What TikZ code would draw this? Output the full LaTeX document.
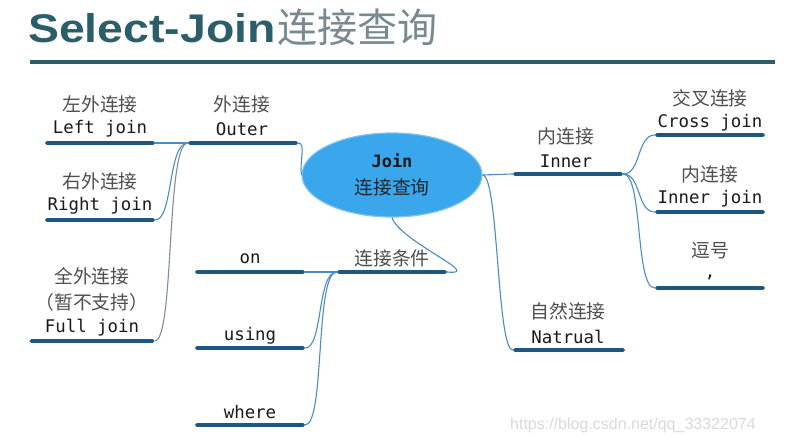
\documentclass[tikz,border=0pt]{standalone}
\usepackage{fontspec}
\usepackage{graphicx}
\usetikzlibrary{shapes.geometric}
\setmainfont{Liberation Sans}
\setmonofont{DejaVu Sans Mono}
\newfontfamily\zhfont{Noto Sans CJK SC}
\definecolor{titleteal}{RGB}{44,94,106}
\definecolor{titlezh}{RGB}{120,138,144}
\definecolor{barblue}{RGB}{30,88,130}
\definecolor{linkblue}{RGB}{74,140,196}
\definecolor{linkgray}{RGB}{130,140,150}
\definecolor{zhgray}{RGB}{78,78,78}
\definecolor{monoblack}{RGB}{25,25,25}
\definecolor{ellfill}{RGB}{58,166,236}
\definecolor{elldraw}{RGB}{130,195,238}
\tikzset{
  barline/.style={rectangle, fill=barblue, minimum height=3.8pt, inner sep=0pt, rounded corners=1.7pt},
  conn/.style={draw=linkblue, line width=1.1pt},
  zh/.style={font=\zhfont\fontsize{18.8}{20}\selectfont, text=zhgray, inner sep=0pt},
  mono/.style={font=\ttfamily\fontsize{17.4}{19}\selectfont, text=monoblack, inner sep=0pt},
}
\begin{document}
\begin{tikzpicture}[x=1pt,y=-1pt]
\useasboundingbox (0,0) rectangle (807,435);
% title
\node[anchor=base west, inner sep=0pt, text=titleteal] (t1) at (28,43)
  {\scalebox{1.16}[1]{\fontsize{40}{42}\selectfont\bfseries Select-Join}};
\node[anchor=base west, inner sep=0pt, text=titlezh, font=\zhfont\fontsize{40}{42}\selectfont] (t2) at ([xshift=1pt]t1.base east) {连接查询};
\draw[titleteal, line width=4pt] (30,62) coordinate (tl1) -- (775,62) coordinate (tl2);

% centre ellipse
\node[ellipse, minimum width=180pt, minimum height=84pt, fill=ellfill, draw=elldraw, line width=1.2pt, inner sep=0pt] (ell) at (392,175) {};
\node[mono, font=\ttfamily\bfseries\fontsize{17}{18}\selectfont] (ellm) at (392,161) {Join};
\node[zh, text=black!85] (ellz) at (392,187) {连接查询};

% Outer branch
\node[zh] (oz) at (242,104) {外连接};
\node[mono] (om) at (242,129) {Outer};
\node[barline, minimum width=110pt] (ob) at (243,143) {};

\node[zh] (ljz) at (100,104) {左外连接};
\node[mono] (ljm) at (100,129) {Left join};
\node[barline, minimum width=110pt] (ljb) at (100,143) {};

\node[zh] (rjz) at (100,181) {右外连接};
\node[mono] (rjm) at (100,206) {Right join};
\node[barline, minimum width=110pt] (rjb) at (100,220) {};

\node[zh] (fjz) at (92,276) {全外连接};
\node[zh] (fjz2) at (92,302) {（暂不支持）};
\node[mono] (fjm) at (92,328) {Full join};
\node[barline, minimum width=125pt] (fjb) at (92,341) {};

% Inner branch
\node[zh] (iz) at (566,136) {内连接};
\node[mono] (im) at (566,161) {Inner};
\node[barline, minimum width=110pt] (ib) at (568,174) {};

\node[zh] (cjz) at (710,98) {交叉连接};
\node[mono] (cjm) at (710,123) {Cross join};
\node[barline, minimum width=110pt] (cjb) at (710,135) {};

\node[zh] (ijz) at (710,174) {内连接};
\node[mono] (ijm) at (710,199) {Inner join};
\node[barline, minimum width=110pt] (ijb) at (710,212) {};

\node[zh] (dhz) at (710,251) {逗号};
\node[mono] (dhm) at (710,277) {,};
\node[barline, minimum width=110pt] (dhb) at (710,288) {};

% Natural
\node[zh] (nz) at (568,311) {自然连接};
\node[mono] (nm) at (568,337) {Natrual};
\node[barline, minimum width=112pt] (nb) at (569,350) {};

% condition branch
\node[zh] (cz) at (392,258) {连接条件};
\node[barline, minimum width=110pt] (cb) at (392,272) {};

\node[mono] (onm) at (250,259) {on};
\node[barline, minimum width=110pt] (onb) at (250,272) {};
\node[mono] (usm) at (250,336) {using};
\node[barline, minimum width=110pt] (usb) at (250,348) {};
\node[mono] (whm) at (250,412) {where};
\node[barline, minimum width=110pt] (whb) at (250,425) {};

% connectors
\draw[conn] (ob.west) -- (ljb.east);
\draw[conn] (ob.west) .. controls +(-20,0) and +(18,0) .. (rjb.east);
\draw[conn, draw=linkgray] (ob.west) .. controls +(-22,0) and +(20,0) .. (fjb.east);
\draw[conn] (ob.east) .. controls +(8,0) and +(-2,-14) .. (ell.west);
\draw[conn] (ell.east) -- (ib.west);
\draw[conn] (ell.east) .. controls +(16,0) and +(-16,0) .. (nb.west);
\draw[conn] (ell.south) .. controls +(8,24) and +(38,4) .. (cb.east);
\draw[conn] (cb.west) -- (onb.east);
\draw[conn] (cb.west) .. controls +(-20,0) and +(18,0) .. (usb.east);
\draw[conn] (cb.west) .. controls +(-22,0) and +(20,0) .. (whb.east);
\draw[conn] (ib.east) .. controls +(18,0) and +(-18,0) .. (cjb.west);
\draw[conn] (ib.east) .. controls +(18,0) and +(-18,0) .. (ijb.west);
\draw[conn] (ib.east) .. controls +(20,0) and +(-20,0) .. (dhb.west);

% watermark
\node[anchor=base west, inner sep=0pt, text=black!15, font=\fontsize{16}{17}\selectfont] (wm) at (510,430) {https://blog.csdn.net/qq\_33322074};
\end{tikzpicture}
\end{document}
